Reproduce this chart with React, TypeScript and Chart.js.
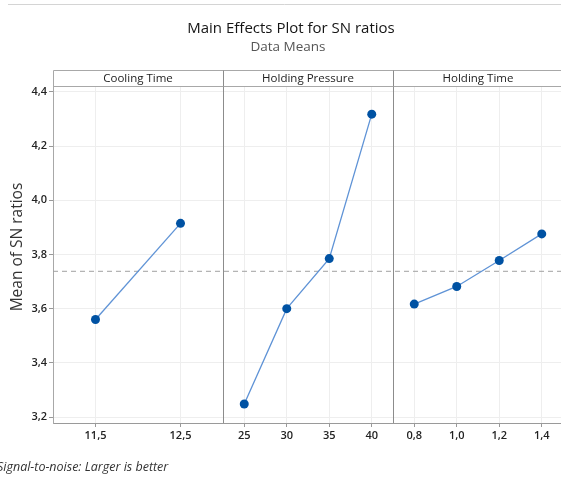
import React, { useEffect, useRef } from 'react';
import { Chart, registerables } from 'chart.js';

Chart.register(...registerables);

// ---- data ----
const panelNames = ['Cooling Time', 'Holding Pressure', 'Holding Time'];
const coolingLevels = ['11,5', '12,5'];
const coolingSN = [3.56, 3.915];
const pressureLevels = ['25', '30', '35', '40'];
const pressureSN = [3.248, 3.6, 3.785, 4.318];
const timeLevels = ['0,8', '1,0', '1,2', '1,4'];
const timeSN = [3.617, 3.682, 3.778, 3.876];
const meanSN = 3.738;
const yTickValues = [3.2, 3.4, 3.6, 3.8, 4.0, 4.2, 4.4];
const yTickLabels = ['3,2', '3,4', '3,6', '3,8', '4,0', '4,2', '4,4'];
const titleText = 'Main Effects Plot for SN ratios';
const subtitleText = 'Data Means';
const yTitleText = 'Mean of SN ratios';
const footerText = 'Signal-to-noise: Larger is better';

const FONT = '"Open Sans", "Noto Sans", sans-serif';
const PANEL_UNITS = 4;
const X_MAX = 11.953;

const panelLevels = [coolingLevels, pressureLevels, timeLevels];
const panelValues = [coolingSN, pressureSN, timeSN];

const tickPositions: number[] = [];
const tickLabels: string[] = [];
panelLevels.forEach((lv, p) => {
  const slot = PANEL_UNITS / lv.length;
  lv.forEach((l, i) => {
    tickPositions.push(p * PANEL_UNITS + slot * (i + 0.5));
    tickLabels.push(l);
  });
});

const decorPlugin = {
  id: 'decor',
  beforeDraw(chart: any) {
    const ctx = chart.ctx;
    ctx.save();
    ctx.fillStyle = '#ffffff';
    ctx.fillRect(0, 0, chart.width, chart.height);
    ctx.strokeStyle = '#d4d4d4';
    ctx.lineWidth = 1;
    ctx.beginPath();
    ctx.moveTo(8, 4.5);
    ctx.lineTo(chart.width, 4.5);
    ctx.stroke();
    ctx.restore();
  },
  beforeDatasetsDraw(chart: any) {
    const ctx = chart.ctx;
    const x = chart.scales.x;
    const area = chart.chartArea;
    ctx.save();
    ctx.strokeStyle = '#8c8c8c';
    ctx.lineWidth = 1;
    for (let p = 1; p < panelNames.length; p++) {
      const px = Math.round(x.getPixelForValue(p * PANEL_UNITS)) + 0.5;
      ctx.beginPath();
      ctx.moveTo(px, area.top);
      ctx.lineTo(px, area.bottom);
      ctx.stroke();
    }
    ctx.restore();
  },
  afterDraw(chart: any) {
    const ctx = chart.ctx;
    const x = chart.scales.x;
    const area = chart.chartArea;
    const hTop = 70.5;
    const hBot = area.top + 0.5;
    ctx.save();
    // header band
    ctx.strokeStyle = '#a8a8a8';
    ctx.lineWidth = 1;
    ctx.beginPath();
    ctx.moveTo(area.left + 0.5, hTop);
    ctx.lineTo(chart.width, hTop);
    ctx.moveTo(area.left + 0.5, hBot);
    ctx.lineTo(chart.width, hBot);
    ctx.moveTo(Math.round(area.left) + 0.5, hTop);
    ctx.lineTo(Math.round(area.left) + 0.5, hBot);
    ctx.stroke();
    ctx.strokeStyle = '#8c8c8c';
    for (let p = 1; p < panelNames.length; p++) {
      const px = Math.round(x.getPixelForValue(p * PANEL_UNITS)) + 0.5;
      ctx.beginPath();
      ctx.moveTo(px, hTop);
      ctx.lineTo(px, hBot);
      ctx.stroke();
    }
    ctx.fillStyle = '#222222';
    ctx.font = `500 11.5px ${FONT}`;
    ctx.textAlign = 'center';
    ctx.textBaseline = 'middle';
    panelNames.forEach((n, p) => {
      const cx = x.getPixelForValue(p * PANEL_UNITS + PANEL_UNITS / 2);
      ctx.fillText(n, cx, 78.5);
    });
    // titles
    ctx.fillStyle = '#151515';
    ctx.font = `15px ${FONT}`;
    ctx.fillText(titleText, 291, 29);
    ctx.fillStyle = '#555555';
    ctx.font = `13.5px ${FONT}`;
    ctx.fillText(subtitleText, 288, 47);
    // y title
    ctx.save();
    ctx.translate(18, 247);
    ctx.rotate(-Math.PI / 2);
    ctx.fillStyle = '#333333';
    ctx.font = `15.5px ${FONT}`;
    ctx.fillText(yTitleText, 0, 0);
    ctx.restore();
    // footer
    ctx.fillStyle = '#333333';
    ctx.font = `italic 12.5px ${FONT}`;
    ctx.textAlign = 'left';
    ctx.fillText(footerText, -3, 467);
    ctx.restore();
  },
};

export default function App() {
  const ref = useRef<HTMLCanvasElement>(null);
  useEffect(() => {
    if (!ref.current) return;
    const datasets: any[] = panelValues.map((vals, p) => {
      const slot = PANEL_UNITS / vals.length;
      return {
        data: vals.map((v, i) => ({ x: p * PANEL_UNITS + slot * (i + 0.5), y: v })),
        showLine: true,
        borderColor: '#5f93d6',
        borderWidth: 1.3,
        pointRadius: 4.5,
        pointBackgroundColor: '#0052a3',
        pointBorderColor: '#0052a3',
        pointBorderWidth: 0,
        order: 0,
      };
    });
    datasets.push({
      data: [
        { x: 0, y: meanSN },
        { x: X_MAX, y: meanSN },
      ],
      showLine: true,
      borderColor: '#a0a0a0',
      borderWidth: 1,
      borderDash: [5, 4],
      pointRadius: 0,
      order: 10,
    });
    const chart = new Chart(ref.current, {
      type: 'scatter',
      data: { datasets },
      plugins: [decorPlugin],
      options: {
        responsive: false,
        animation: false,
        devicePixelRatio: 1,
        layout: { autoPadding: false, padding: { top: 86, left: 0, right: 0, bottom: 0 } },
        plugins: {
          legend: { display: false },
          tooltip: { enabled: false },
          title: { display: false },
        },
        scales: {
          x: {
            type: 'linear',
            min: 0,
            max: X_MAX,
            afterBuildTicks: (scale: any) => {
              scale.ticks = tickPositions.map((v) => ({ value: v }));
            },
            afterFit: (scale: any) => {
              scale.height = 56;
              scale.paddingLeft = 0;
              scale.paddingRight = 0;
            },
            ticks: {
              callback: (_v: any, i: number) => tickLabels[i],
              autoSkip: false,
              maxRotation: 0,
              padding: 2,
              color: '#222222',
              font: { family: FONT, size: 11, weight: '600' },
            },
            grid: { color: '#eeeeee', tickColor: '#999999', tickLength: 4 },
            border: { color: '#9a9a9a' },
          },
          y: {
            min: 3.178,
            max: 4.422,
            afterBuildTicks: (scale: any) => {
              scale.ticks = yTickValues.map((v) => ({ value: v }));
            },
            afterFit: (scale: any) => {
              scale.width = 53;
              scale.paddingTop = 0;
              scale.paddingBottom = 0;
            },
            ticks: {
              callback: (_v: any, i: number) => yTickLabels[i],
              padding: 2,
              color: '#222222',
              font: { family: FONT, size: 11, weight: '600' },
            },
            grid: { color: '#eeeeee', tickColor: '#999999', tickLength: 4 },
            border: { color: '#a8a8a8' },
          },
        },
      } as any,
    });
    return () => chart.destroy();
  }, []);
  return (
    <div style={{ position: 'fixed', left: 0, top: 0, width: 561, height: 479, background: '#fff' }}>
      <canvas ref={ref} width={561} height={479} style={{ display: 'block' }} />
    </div>
  );
}
